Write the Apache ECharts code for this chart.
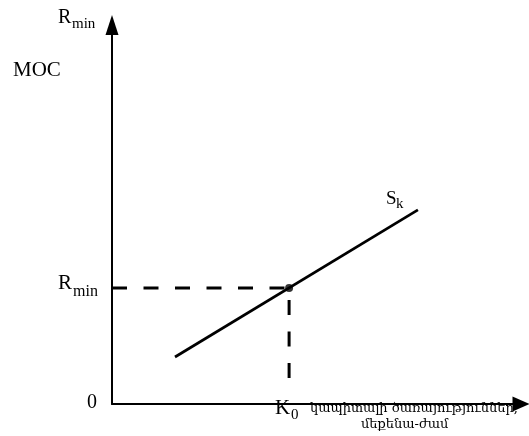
<!DOCTYPE html>
<html><head><meta charset="utf-8">
<script src="https://cdn.jsdelivr.net/npm/echarts@6/dist/echarts.min.js"></script>
<style>html,body{margin:0;padding:0;background:#fff}#c{width:529px;height:436px}</style>
</head><body><div id="c"></div>
<script>
// Supply curve S_k (capital services), two end points [K, R]
const supplyLine = [[15.4, 12.4], [74.8, 51.2]];
// Equilibrium point (K0, Rmin)
const equilibrium = [43.3, 30.6];
// Lower end of the vertical dashed guide
const guideBottom = 6.3;
const axisRange = { xMin: 0, xMax: 100, yMin: 0, yMax: 100 };

const guide = [[0, equilibrium[1]], [equilibrium[0], equilibrium[1]], [equilibrium[0], guideBottom]];

const chart = echarts.init(document.getElementById('c'));
function txt(s, size, left, top, fam) {
  fam = fam || 'Liberation Serif';
  return { type: 'text', left: left, top: top, style: {
    text: s, font: size + 'px "' + fam + '"', fontSize: size, fontFamily: fam, fill: '#000' } };
}
chart.setOption({
  animation: false,
  grid: { left: 112, right: 8, top: 25, bottom: 32 },
  xAxis: {
    type: 'value', min: axisRange.xMin, max: axisRange.xMax,
    axisLine: { show: true, symbol: ['none', 'triangle'], symbolSize: [15, 17], lineStyle: { color: '#000', width: 2 } },
    axisTick: { show: false }, axisLabel: { show: false }, splitLine: { show: false }
  },
  yAxis: {
    type: 'value', min: axisRange.yMin, max: axisRange.yMax,
    axisLine: { show: true, symbol: ['none', 'triangle'], symbolSize: [13, 20], lineStyle: { color: '#000', width: 2 } },
    axisTick: { show: false }, axisLabel: { show: false }, splitLine: { show: false }
  },
  series: [
    { type: 'line', data: supplyLine, symbol: 'none', lineStyle: { color: '#000', width: 2.7 }, z: 3 },
    { type: 'line', data: guide, symbol: 'none', lineStyle: { color: '#000', width: 3, type: [15, 16.5] }, z: 2 },
    { type: 'scatter', data: [equilibrium], symbolSize: 8, itemStyle: { color: '#000' }, z: 4 }
  ],
  graphic: [
    txt('R', 20, 58, 8), txt('min', 15, 72, 17),
    txt('MOC', 21, 13, 60),
    txt('R', 21, 58, 273), txt('min', 16, 73, 284),
    txt('0', 20, 87, 393),
    txt('K', 21, 275, 398), txt('0', 15, 291, 408),
    txt('S', 19, 386, 190), txt('k', 15, 396, 197),
    txt('կապիտալի ծառայություններ,', 13, 310, 402, 'DejaVu Serif'),
    txt('մեքենա-ժամ', 13, 361, 418, 'DejaVu Serif')
  ]
});
</script></body></html>
